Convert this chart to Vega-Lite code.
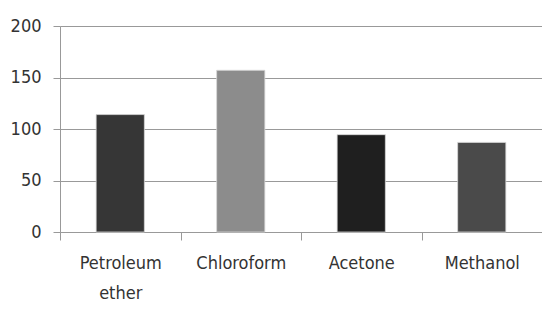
{
  "$schema": "https://vega.github.io/schema/vega-lite/v6.json",
  "autosize": "none",
  "width": 482,
  "height": 206,
  "padding": {"left": 60, "top": 26, "right": 0, "bottom": 79},
  "background": "white",
  "data": {"values": [
    {"solvent": "Petroleum ether", "value": 114, "color": "#363636"},
    {"solvent": "Chloroform", "value": 157, "color": "#8c8c8c"},
    {"solvent": "Acetone", "value": 94.5, "color": "#1f1f1f"},
    {"solvent": "Methanol", "value": 87, "color": "#4a4a4a"}
  ]},
  "mark": {"type": "bar", "width": {"band": 0.4}, "stroke": "#d8d8d8", "strokeWidth": 0.8},
  "encoding": {
    "x": {
      "field": "solvent", "type": "nominal", "sort": null,
      "scale": {"paddingInner": 0, "paddingOuter": 0},
      "axis": {
        "title": null, "labelAngle": 0, "grid": false,
        "domainColor": "#999999", "ticks": true, "tickColor": "#999999", "tickSize": 8,
        "tickBand": "extent", "tickExtra": true,
        "labelExpr": "split(datum.label, ' ')",
        "labelFont": "DejaVu Sans Condensed", "labelFontSize": 18, "labelColor": "#333333",
        "labelPadding": 14, "labelLineHeight": 30
      }
    },
    "y": {
      "field": "value", "type": "quantitative",
      "scale": {"domain": [0, 200]},
      "axis": {
        "title": null, "values": [0, 50, 100, 150, 200],
        "grid": true, "gridColor": "#999999", "gridWidth": 1.2,
        "domainColor": "#999999", "tickColor": "#999999", "tickSize": 7,
        "labelFont": "DejaVu Sans Condensed", "labelFontSize": 18, "labelColor": "#333333",
        "labelPadding": 12
      }
    },
    "color": {"field": "color", "type": "nominal", "scale": null, "legend": null}
  },
  "config": {"view": {"stroke": null}}
}
